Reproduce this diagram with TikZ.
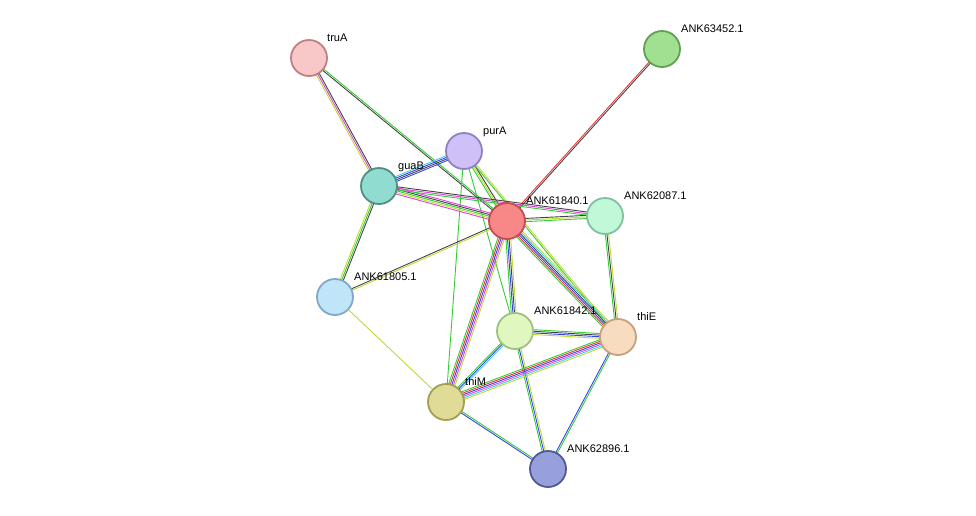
\documentclass[tikz,border=0pt]{standalone}
\usepackage{fontspec}
\setmainfont{Liberation Sans}
\usetikzlibrary{calc}
\definecolor{eg}{HTML}{33CC33}\definecolor{ey}{HTML}{BBDD33}\definecolor{ed}{HTML}{444444}
\definecolor{er}{HTML}{EE3333}\definecolor{eb}{HTML}{3344EE}\definecolor{em}{HTML}{DD44DD}
\definecolor{ec}{HTML}{44CCEE}
\newcommand{\myedge}[3]{%
 \foreach \c [count=\i] in {#3} {\global\let\nn\i}%
 \foreach \c [count=\i] in {#3} {%
  \pgfmathsetmacro{\off}{(\i-(\nn+1)/2)*1.6}%
  \draw[\c,line width=0.9pt] ($(#1)!\off pt!90:(#2)$) -- ($(#2)!\off pt!-90:(#1)$);}}
\tikzset{prot/.style={circle,minimum size=36pt,inner sep=0pt,line width=1.8pt},
 lab/.style={anchor=base west,font=\fontsize{11}{13}\selectfont,inner sep=1pt}}
\begin{document}
\begin{tikzpicture}[x=1pt,y=-1pt]
\useasboundingbox (0,0) rectangle (976,515);
\coordinate (truA) at (309,58);
\coordinate (A52) at (662,49);
\coordinate (purA) at (464,151);
\coordinate (guaB) at (379,186);
\coordinate (A40) at (507,221);
\coordinate (A87) at (605,216);
\coordinate (A05) at (335,297);
\coordinate (A42) at (515,331);
\coordinate (thiE) at (618,337);
\coordinate (thiM) at (446,402);
\coordinate (A96) at (548,469);
\myedge{truA}{guaB}{ey,em,ed}
\myedge{truA}{A40}{ed,eg}
\myedge{A52}{A40}{er,ed}
\myedge{purA}{guaB}{ec,eb,ed,eb}
\myedge{purA}{A40}{eg,ey,ed}
\myedge{purA}{thiE}{eg,ey}
\myedge{purA}{A42}{eg}
\myedge{purA}{thiM}{eg}
\myedge{guaB}{A40}{em,ey,eg,ed,em}
\myedge{guaB}{A87}{eg,em,ed}
\myedge{guaB}{A05}{ey,eg,ed}
\myedge{A40}{A87}{eg,ey,ed}
\myedge{A40}{A05}{ed,ey}
\myedge{A40}{thiM}{eg,er,eb,em,ey}
\myedge{A40}{A42}{eg,eb,ed,ey}
\myedge{A40}{thiE}{eg,er,eb,ed,ec,ey}
\myedge{A87}{thiE}{eg,ed,ey}
\myedge{A05}{thiM}{ey}
\myedge{A42}{thiE}{ey,eb,ed,eg}
\myedge{A42}{thiM}{eg,eb,ec}
\myedge{A42}{A96}{eg,eb,ey}
\myedge{thiE}{thiM}{eg,er,eb,em,ec,ey}
\myedge{thiE}{A96}{eb,eg}
\myedge{thiM}{A96}{eb,eg}
\node[prot,fill={rgb,255:red,248;green,200;blue,200},draw={rgb,255:red,192;green,128;blue,128}] (n1) at (truA) {};
\node[prot,fill={rgb,255:red,160;green,224;blue,144},draw={rgb,255:red,96;green,160;blue,80}] (n2) at (A52) {};
\node[prot,fill={rgb,255:red,208;green,192;blue,248},draw={rgb,255:red,144;green,128;blue,192}] (n3) at (purA) {};
\node[prot,fill={rgb,255:red,144;green,220;blue,208},draw={rgb,255:red,80;green,144;blue,128}] (n4) at (guaB) {};
\node[prot,fill={rgb,255:red,248;green,136;blue,136},draw={rgb,255:red,192;green,80;blue,80}] (n5) at (A40) {};
\node[prot,fill={rgb,255:red,192;green,248;blue,216},draw={rgb,255:red,128;green,192;blue,160}] (n6) at (A87) {};
\node[prot,fill={rgb,255:red,192;green,228;blue,248},draw={rgb,255:red,128;green,168;blue,200}] (n7) at (A05) {};
\node[prot,fill={rgb,255:red,224;green,248;blue,192},draw={rgb,255:red,160;green,192;blue,128}] (n8) at (A42) {};
\node[prot,fill={rgb,255:red,248;green,220;blue,192},draw={rgb,255:red,200;green,160;blue,128}] (n9) at (thiE) {};
\node[prot,fill={rgb,255:red,224;green,220;blue,152},draw={rgb,255:red,160;green,160;blue,80}] (n10) at (thiM) {};
\node[prot,fill={rgb,255:red,152;green,160;blue,220},draw={rgb,255:red,80;green,88;blue,152}] (n11) at (A96) {};
\node[lab] (l1) at (326,41) {truA};
\node[lab] (l2) at (680,32) {ANK63452.1};
\node[lab] (l3) at (482,134) {purA};
\node[lab] (l4) at (397,169) {guaB};
\node[lab] (l5) at (525,204) {ANK61840.1};
\node[lab] (l6) at (623,199) {ANK62087.1};
\node[lab] (l7) at (353,280) {ANK61805.1};
\node[lab] (l8) at (533,314) {ANK61842.1};
\node[lab] (l9) at (636,320) {thiE};
\node[lab] (l10) at (464,385) {thiM};
\node[lab] (l11) at (566,452) {ANK62896.1};
\end{tikzpicture}
\end{document}
